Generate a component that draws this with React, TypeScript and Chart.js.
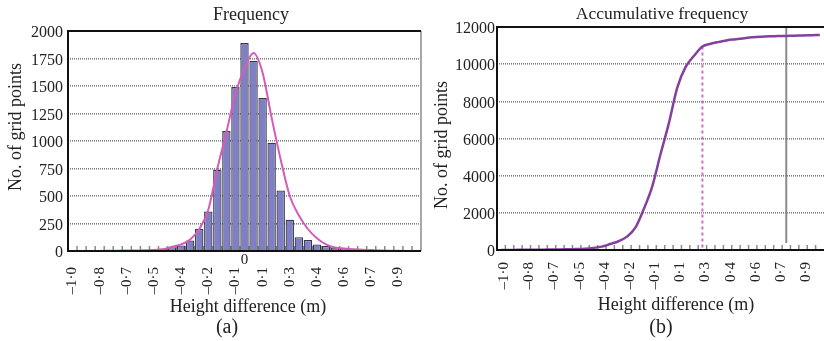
import React, { useEffect, useRef } from "react";
import { Chart, registerables } from "chart.js";

Chart.register(...registerables);

// ---- data ----
const xTickLabels = [
  "–1·0", "", "", "–0·8", "", "", "–0·7", "", "", "–0·5", "", "", "–0·4", "", "",
  "–0·2", "", "", "–0·1", "", "", "0·1", "", "", "0·3", "", "", "0·4", "", "",
  "0·6", "", "", "0·7", "", "", "0·9", "", "",
];

const freqBars = [
  2, 1, 2, 2, 3, 3, 4, 5, 7, 10,
  20, 35, 50, 95, 200, 360, 740, 1090, 1490, 1890,
  1730, 1390, 985, 550, 285, 125, 100, 60, 45, 32,
  22, 17, 13, 10, 8, 6, 4, 3, 2,
];

const freqCurve = [
  0, 0, 1, 1, 2, 3, 4, 5, 6, 10,
  15, 38, 60, 105, 200, 375, 750, 1080, 1430, 1660,
  1800, 1620, 1210, 830, 500, 325, 200, 115, 60, 32,
  22, 15, 12, 8, 5, 3, 2, 1, 0,
];

const cumCurve = [
  0, 5, 8, 12, 15, 20, 25, 30, 40, 50,
  70, 110, 180, 320, 470, 720, 1200, 2200, 3400, 5150,
  6830, 8740, 9850, 10450, 10950, 11100, 11200, 11290, 11340, 11400,
  11450, 11480, 11500, 11510, 11520, 11530, 11545, 11555, 11570,
];

const zeroLabelIndex = 19;
const dashedMarkerIndex = 24;
const solidMarkerIndex = 34;

const FONT = "'Liberation Serif', 'Times New Roman', serif";
const TEXT = "#222";

function drawText(ctx: CanvasRenderingContext2D, text: string, x: number, y: number, size: number, rotate = false) {
  ctx.save();
  ctx.font = `${size}px ${FONT}`;
  ctx.fillStyle = TEXT;
  ctx.textAlign = "center";
  ctx.textBaseline = "middle";
  ctx.translate(x, y);
  if (rotate) ctx.rotate(-Math.PI / 2);
  ctx.fillText(text, 0, 0);
  ctx.restore();
}

function drawBottomTicks(chart: any) {
  const { ctx, chartArea: a, scales } = chart;
  const x = scales.x;
  const n = xTickLabels.length;
  const w = x.getPixelForValue(1) - x.getPixelForValue(0);
  ctx.save();
  ctx.strokeStyle = "#8a8a8a";
  ctx.lineWidth = 1.5;
  for (let i = 1; i < n; i++) {
    const px = x.getPixelForValue(i) - w / 2;
    ctx.beginPath();
    ctx.moveTo(px, a.bottom - 5);
    ctx.lineTo(px, a.bottom);
    ctx.stroke();
  }
  ctx.restore();
}

function line(ctx: CanvasRenderingContext2D, x1: number, y1: number, x2: number, y2: number, color: string, width: number, dash: number[] = []) {
  ctx.save();
  ctx.strokeStyle = color;
  ctx.lineWidth = width;
  ctx.setLineDash(dash);
  ctx.beginPath();
  ctx.moveTo(x1, y1);
  ctx.lineTo(x2, y2);
  ctx.stroke();
  ctx.restore();
}

const leftDecor = {
  id: "leftDecor",
  beforeDatasetsDraw(chart: any) {
    drawBottomTicks(chart);
  },
  afterDatasetsDraw(chart: any) {
    const { ctx, chartArea: a } = chart;
    line(ctx, a.right, a.top, a.right, a.bottom, "#a8a8a8", 2);
    line(ctx, a.left - 1, a.top, a.right, a.top, "#111", 2);
    line(ctx, a.left, a.top, a.left, a.bottom + 1, "#111", 2);
    line(ctx, a.left - 1, a.bottom, a.right, a.bottom, "#111", 2);
  },
  afterDraw(chart: any) {
    const { ctx, scales } = chart;
    drawText(ctx, "Frequency", 251, 15, 18);
    drawText(ctx, "No. of grid points", 16, 127, 18, true);
    drawText(ctx, "Height difference (m)", 248, 307, 18);
    drawText(ctx, "(a)", 227, 328, 20);
    drawText(ctx, "0", scales.x.getPixelForValue(zeroLabelIndex), 260, 15);
  },
};

const rightDecor = {
  id: "rightDecor",
  beforeDatasetsDraw(chart: any) {
    drawBottomTicks(chart);
    const { ctx, chartArea: a, scales } = chart;
    const xs = scales.x.getPixelForValue(solidMarkerIndex);
    line(ctx, xs, a.top, xs, a.bottom - 7, "#8a8a8a", 2);
    const xd = scales.x.getPixelForValue(dashedMarkerIndex);
    const yd = scales.y.getPixelForValue(cumCurve[dashedMarkerIndex]);
    line(ctx, xd, yd, xd, a.bottom, "#d46cc4", 2, [3, 3]);
  },
  afterDatasetsDraw(chart: any) {
    const { ctx, chartArea: a } = chart;
    line(ctx, a.left - 1, a.top, a.right, a.top, "#111", 2);
    line(ctx, a.left, a.top, a.left, a.bottom + 1, "#111", 2);
    line(ctx, a.left - 1, a.bottom, a.right, a.bottom, "#111", 2);
  },
  afterDraw(chart: any) {
    const { ctx } = chart;
    drawText(ctx, "Accumulative frequency", 234, 14, 17.5);
    drawText(ctx, "No. of grid points", 14, 145, 18, true);
    drawText(ctx, "Height difference (m)", 248, 305, 18);
    drawText(ctx, "(b)", 233, 328, 20);
  },
};

const fitX = (h: number) => (s: any) => {
  s.height = h;
  s.paddingLeft = 0;
  s.paddingRight = 0;
};

export default function App() {
  const leftRef = useRef<HTMLCanvasElement>(null);
  const rightRef = useRef<HTMLCanvasElement>(null);

  useEffect(() => {
    const gridY = { color: "#808080", lineWidth: 1.6, drawTicks: false };
    const plainNum = (v: any) => String(v);
    const left = new Chart(leftRef.current as HTMLCanvasElement, {
      type: "bar",
      data: {
        labels: xTickLabels,
        datasets: [
          {
            type: "line",
            data: freqCurve,
            borderColor: "#d45cb8",
            borderWidth: 2,
            pointRadius: 0,
            cubicInterpolationMode: "monotone",
            fill: false,
            order: 0,
          } as any,
          {
            type: "bar",
            data: freqBars,
            backgroundColor: "#7f7fc6",
            borderColor: "#383848",
            borderWidth: 1.3,
            barPercentage: 1,
            categoryPercentage: 0.93,
            order: 1,
          } as any,
        ],
      },
      options: {
        responsive: false,
        animation: false,
        devicePixelRatio: 1,
        layout: { padding: { top: 31, right: 7, left: 0, bottom: 0 } },
        plugins: { legend: { display: false }, tooltip: { enabled: false } },
        scales: {
          x: {
            offset: true,
            grid: { display: false, drawTicks: false },
            border: { display: false },
            ticks: {
              autoSkip: false,
              maxRotation: 90,
              minRotation: 90,
              padding: 16,
              font: { family: FONT, size: 15 },
              color: TEXT,
            },
            afterFit: fitX(90),
          },
          y: {
            min: 0,
            max: 2000,
            ticks: { stepSize: 250, padding: 5, labelOffset: 2, font: { family: FONT, size: 16 }, color: TEXT, callback: plainNum },
            grid: gridY,
            border: { display: false, dash: [1, 1] },
            afterFit: (s: any) => { s.width = 68; },
          },
        },
      } as any,
      plugins: [leftDecor],
    });

    const right = new Chart(rightRef.current as HTMLCanvasElement, {
      type: "line",
      data: {
        labels: xTickLabels,
        datasets: [
          {
            data: cumCurve,
            borderColor: "#84409c",
            borderWidth: 2.5,
            pointRadius: 0,
            cubicInterpolationMode: "monotone",
            fill: false,
          } as any,
        ],
      },
      options: {
        responsive: false,
        animation: false,
        devicePixelRatio: 1,
        layout: { padding: { top: 27, right: 0, left: 0, bottom: 0 } },
        plugins: { legend: { display: false }, tooltip: { enabled: false } },
        scales: {
          x: {
            offset: true,
            grid: { display: false, drawTicks: false },
            border: { display: false },
            ticks: {
              autoSkip: false,
              maxRotation: 90,
              minRotation: 90,
              padding: 12,
              labelOffset: 3,
              font: { family: FONT, size: 15 },
              color: TEXT,
            },
            afterFit: fitX(91),
          },
          y: {
            min: 0,
            max: 12000,
            ticks: { stepSize: 2000, padding: 2, labelOffset: 2, font: { family: FONT, size: 16 }, color: TEXT, callback: plainNum },
            grid: gridY,
            border: { display: false, dash: [1, 1] },
            afterFit: (s: any) => { s.width = 69; },
          },
        },
      } as any,
      plugins: [rightDecor],
    });

    return () => {
      left.destroy();
      right.destroy();
    };
  }, []);

  return (
    <div style={{ position: "fixed", left: 0, top: 0, width: 824, height: 341, background: "#fff", overflow: "hidden" }}>
      <canvas ref={leftRef} width={428} height={341} style={{ position: "absolute", left: 0, top: 0 }} />
      <canvas ref={rightRef} width={396} height={341} style={{ position: "absolute", left: 428, top: 0 }} />
    </div>
  );
}
